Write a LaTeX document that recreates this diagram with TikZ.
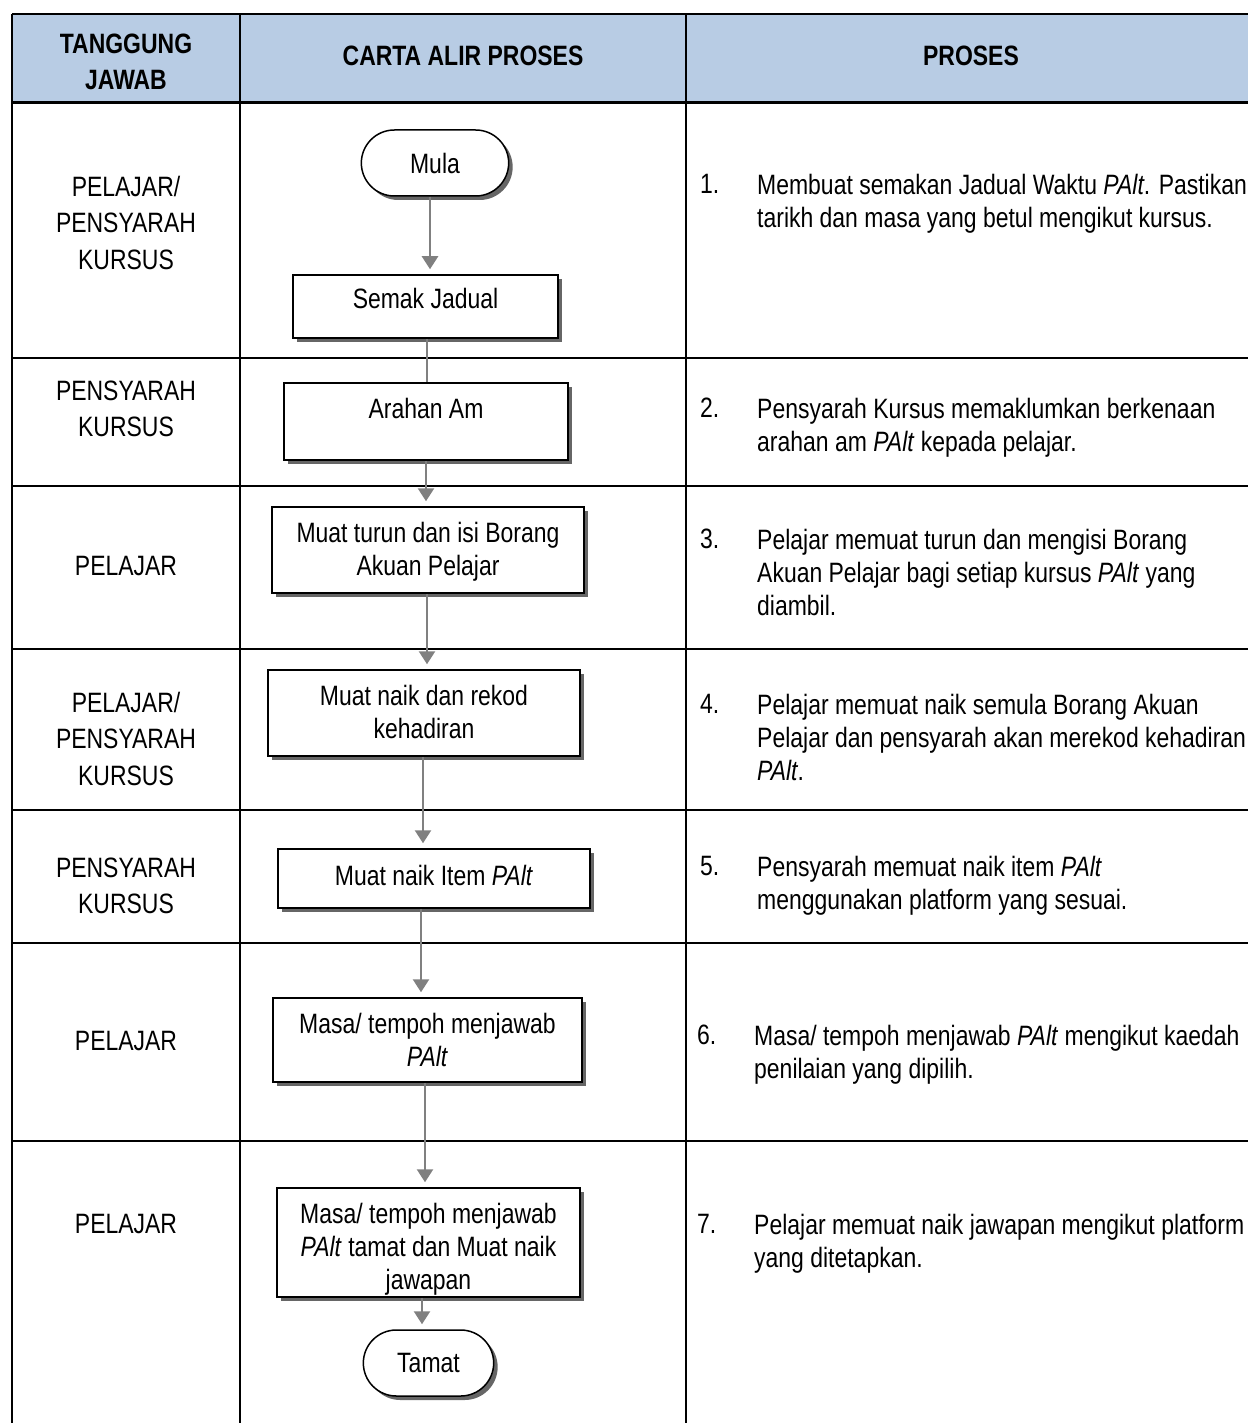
\documentclass[tikz,border=0pt]{standalone}
\usepackage{fontspec}
\setmainfont{Liberation Sans}[FakeStretch=0.82]
\usepackage{tikz}
\usetikzlibrary{arrows.meta,shapes.misc,shadows,positioning}
\usepackage{xcolor}
\definecolor{headfill}{RGB}{184,204,228}
\definecolor{flowgray}{RGB}{128,128,128}
\newcommand{\palt}{\textit{PAlt}}

\begin{document}
\begin{tikzpicture}[x=1pt, y=-1pt,
        grid/.style={draw=black, line width=2pt},
        head/.style={align=center, font=\bfseries\fontsize{28}{36}\selectfont},
        role/.style={align=center, font=\fontsize{28}{36.5}\selectfont},
        num/.style={anchor=north west, inner sep=0pt, font=\fontsize{28}{33}\selectfont},
        desc/.style={anchor=north west, align=left, inner sep=0pt, font=\fontsize{28}{33}\selectfont},
        stepbox/.style={rectangle, draw=black, line width=1.5pt, fill=white, inner sep=0pt,
                    align=center, font=\fontsize{28}{33}\selectfont,
                    drop shadow={shadow xshift=4pt, shadow yshift=-4pt, fill=black!60, opacity=1}},
        term/.style={rounded rectangle, draw=black, line width=1.5pt, fill=white,
                    font=\fontsize{28}{33}\selectfont,
                    drop shadow={shadow xshift=4pt, shadow yshift=-4pt, fill=black!60, opacity=1}},
        flow/.style={-{Triangle[width=16pt,length=13pt]}, draw=flowgray, line width=2.5pt, shorten >=5pt},
        flowline/.style={draw=flowgray, line width=2.5pt}
      ]
        \useasboundingbox (0,0) rectangle (1248,1423);
        \fill[headfill] (12,14) rectangle (1248,103);
        \draw[grid] (12,14) -- (1248,14);
        \draw[grid, line width=3pt] (12,103) -- (1248,103);
        \foreach \y in {358,486,649,810,943,1141}
          \draw[grid] (12,\y) -- (1248,\y);
        \foreach \x in {12,240,686}
          \draw[grid] (\x,14) -- (\x,1423);

        \node[head] (h1) at (126,62) {TANGGUNG\\JAWAB};
        \node[head] (h2) at (463,56) {CARTA ALIR PROSES};
        \node[head] (h3) at (971,56) {PROSES};

        \node[role] (r1) at (126,222.5) {PELAJAR/\\PENSYARAH\\KURSUS};
        \node[role] (r2) at (126,409) {PENSYARAH\\KURSUS};
        \node[role] (r3) at (126,566) {PELAJAR};
        \node[role] (r4) at (126,738.5) {PELAJAR/\\PENSYARAH\\KURSUS};
        \node[role] (r5) at (126,886) {PENSYARAH\\KURSUS};
        \node[role] (r6) at (126,1041) {PELAJAR};
        \node[role] (r7) at (126,1224) {PELAJAR};

        \node[term, minimum width=154pt, minimum height=66pt] (mula) at (435,163) {Mula};
        \node[stepbox, minimum width=265pt, text height=33pt, text depth=30pt] (semak) at (425.5,306.5) {Semak Jadual};
        \node[stepbox, minimum width=284pt, text height=35pt, text depth=42pt] (arahan) at (426,421.5) {Arahan Am};
        \node[stepbox, minimum width=312pt, text height=68pt, text depth=18pt] (turun) at (428,550) {Muat turun dan isi Borang\\Akuan Pelajar};
        \node[stepbox, minimum width=312pt, text height=68pt, text depth=18pt] (naik) at (424,713) {Muat naik dan rekod\\kehadiran};
        \node[stepbox, minimum width=312pt, text height=36pt, text depth=23pt] (item) at (434,878.5) {Muat naik Item \palt};
        \node[stepbox, minimum width=309pt, text height=68pt, text depth=16pt] (masa) at (427.5,1040) {Masa/ tempoh menjawab\\\palt};
        \node[stepbox, minimum width=303pt, text height=101pt, text depth=8pt] (jawab) at (428.5,1242.5) {Masa/ tempoh menjawab\\\palt{} tamat dan Muat naik\\jawapan};
        \node[term, minimum width=137pt, minimum height=66pt] (tamat) at (428.5,1363) {Tamat};

        \draw[flow] (mula.south -| 430,0) -- (semak.north -| 430,0);
        \draw[flowline] (semak.south -| 427,0) -- (arahan.north -| 427,0);
        \draw[flow] (arahan.south -| 426,0) -- (turun.north -| 426,0);
        \draw[flow] (turun.south -| 427,0) -- (naik.north -| 427,0);
        \draw[flow] (naik.south -| 423,0) -- (item.north -| 423,0);
        \draw[flow] (item.south -| 421,0) -- (masa.north -| 421,0);
        \draw[flow] (masa.south -| 425,0) -- (jawab.north -| 425,0);
        \draw[flow] (jawab.south -| 422,0) -- (tamat.north -| 422,0);

        \node[num] (n1) at (700,174) {1.};
        \node[desc] (d1) at (757,174) {Membuat semakan Jadual Waktu \palt. Pastikan\\tarikh dan masa yang betul mengikut kursus.};
        \node[num] (n2) at (700,398) {2.};
        \node[desc] (d2) at (757,398) {Pensyarah Kursus memaklumkan berkenaan\\arahan am \palt{} kepada pelajar.};
        \node[num] (n3) at (700,529) {3.};
        \node[desc] (d3) at (757,529) {Pelajar memuat turun dan mengisi Borang\\Akuan Pelajar bagi setiap kursus \palt{} yang\\diambil.};
        \node[num] (n4) at (700,694) {4.};
        \node[desc] (d4) at (757,694) {Pelajar memuat naik semula Borang Akuan\\Pelajar dan pensyarah akan merekod kehadiran\\\palt.};
        \node[num] (n5) at (700,856) {5.};
        \node[desc] (d5) at (757,856) {Pensyarah memuat naik item \palt\\menggunakan platform yang sesuai.};
        \node[num] (n6) at (697,1025) {6.};
        \node[desc] (d6) at (754,1025) {Masa/ tempoh menjawab \palt{} mengikut kaedah\\penilaian yang dipilih.};
        \node[num] (n7) at (697,1214) {7.};
        \node[desc] (d7) at (754,1214) {Pelajar memuat naik jawapan mengikut platform\\yang ditetapkan.};
      \end{tikzpicture}
\end{document}
